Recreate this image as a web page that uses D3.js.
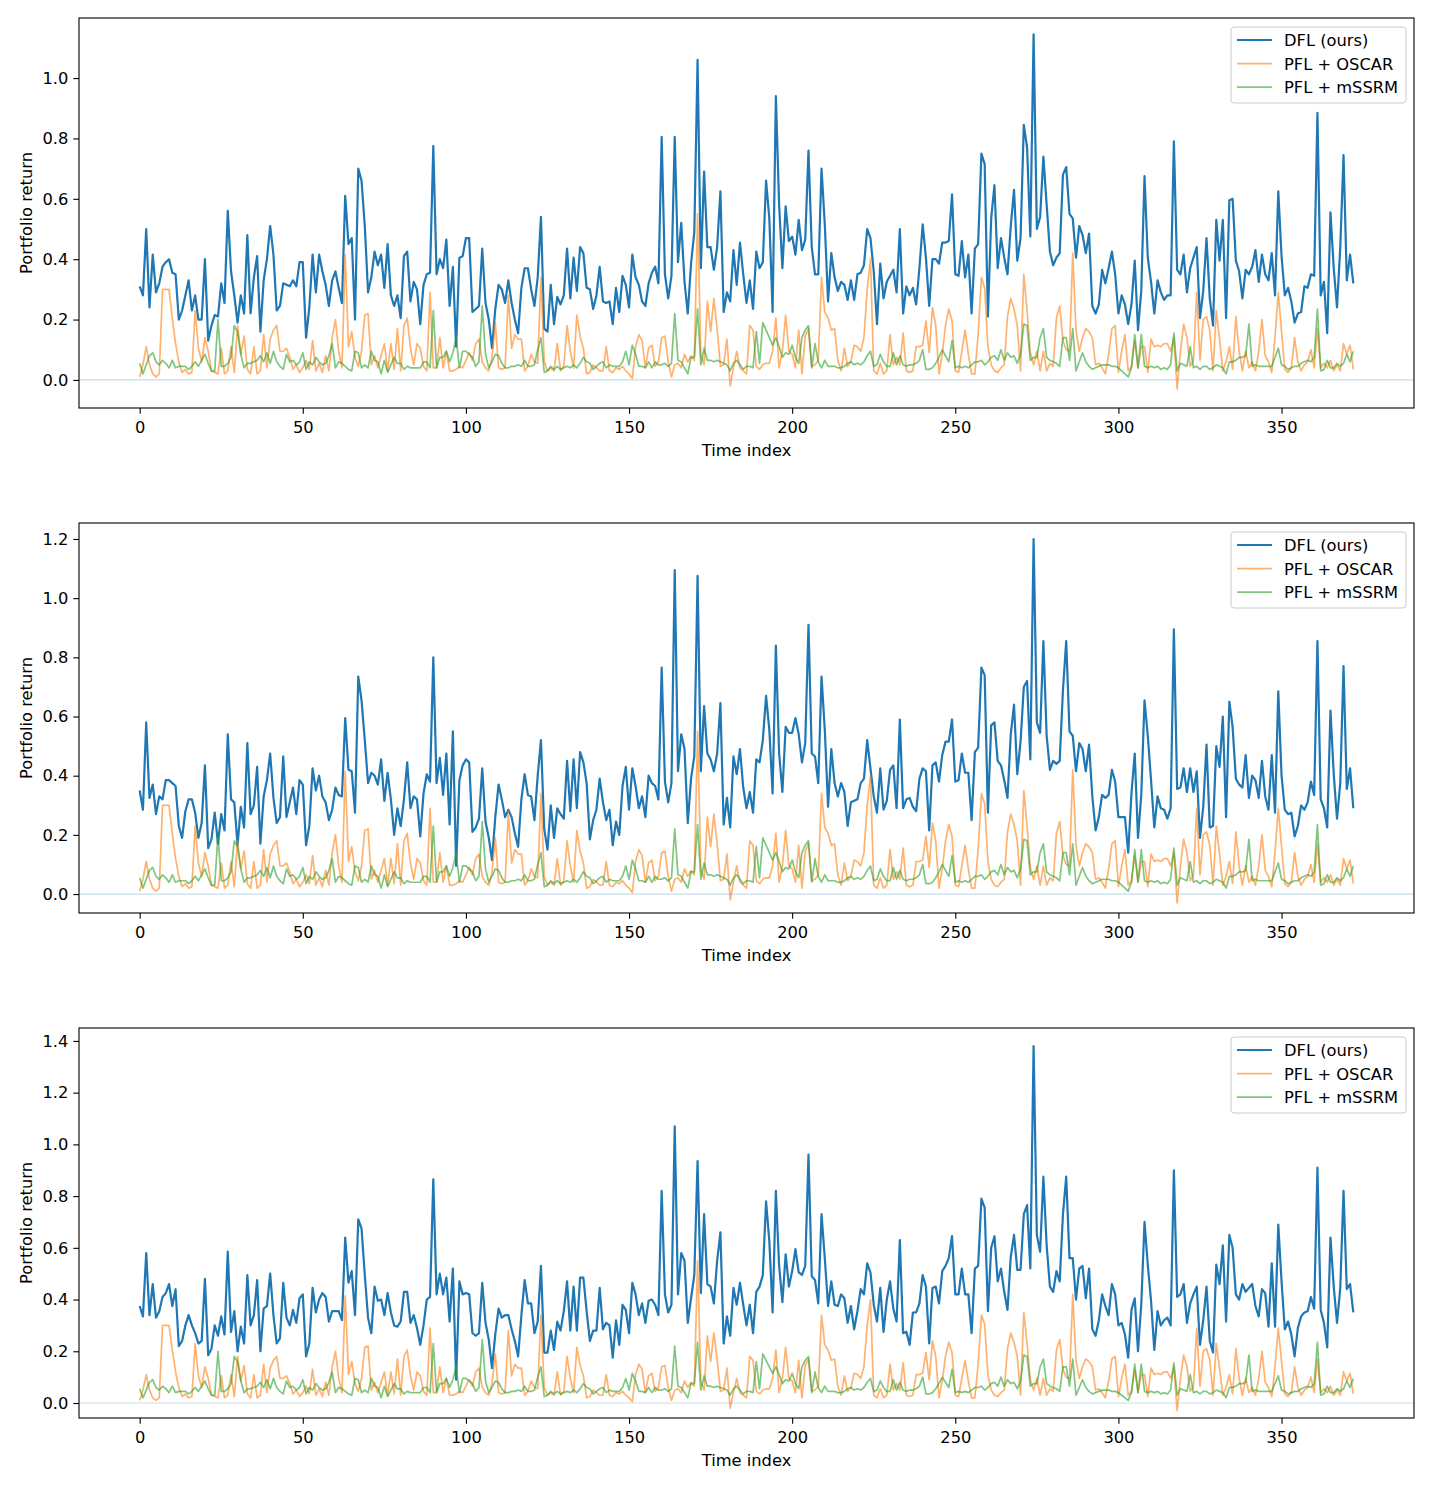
<!DOCTYPE html>
<html>
<head>
<meta charset="utf-8">
<script src="https://cdn.jsdelivr.net/npm/d3@7"></script>
<style>
  body { margin: 0; background: #fff; }
  svg text { font-family: "DejaVu Sans", sans-serif; fill: #000; }
</style>
</head>
<body>
<div id="fig"></div>
<script>
// series names (legend order)
const seriesNames = ['DFL (ours)', 'PFL + OSCAR', 'PFL + mSSRM'];

// DFL return, one array per panel (index 0..372)
const dflTop = [
  0.31,0.28,0.50,0.24,0.415,0.29,0.32,0.375,0.39,0.40,
  0.355,0.35,0.20,0.23,0.28,0.33,0.23,0.28,0.20,0.20,
  0.40,0.13,0.18,0.215,0.21,0.32,0.255,0.56,0.36,0.28,
  0.19,0.28,0.22,0.48,0.22,0.34,0.41,0.16,0.33,0.40,
  0.51,0.415,0.23,0.245,0.32,0.315,0.31,0.33,0.31,0.39,
  0.39,0.14,0.24,0.415,0.29,0.415,0.36,0.315,0.245,0.33,
  0.36,0.305,0.255,0.61,0.45,0.47,0.20,0.70,0.66,0.51,
  0.29,0.34,0.425,0.38,0.415,0.305,0.45,0.28,0.245,0.28,
  0.205,0.41,0.425,0.26,0.325,0.30,0.185,0.315,0.35,0.355,
  0.775,0.35,0.40,0.37,0.465,0.245,0.375,0.11,0.405,0.41,
  0.47,0.47,0.225,0.235,0.245,0.435,0.255,0.20,0.105,0.235,
  0.315,0.30,0.255,0.33,0.255,0.20,0.155,0.305,0.37,0.37,
  0.30,0.245,0.34,0.54,0.17,0.16,0.315,0.185,0.275,0.25,
  0.28,0.435,0.27,0.405,0.295,0.44,0.42,0.305,0.30,0.235,
  0.28,0.375,0.26,0.255,0.26,0.185,0.305,0.225,0.345,0.315,
  0.24,0.415,0.34,0.315,0.26,0.245,0.32,0.355,0.375,0.32,
  0.805,0.35,0.27,0.345,0.805,0.39,0.52,0.325,0.22,0.385,
  0.49,1.06,0.37,0.69,0.44,0.44,0.365,0.44,0.625,0.225,
  0.29,0.26,0.43,0.315,0.455,0.35,0.255,0.33,0.235,0.425,
  0.37,0.39,0.66,0.535,0.225,0.94,0.58,0.37,0.575,0.46,
  0.475,0.415,0.53,0.43,0.465,0.76,0.44,0.35,0.35,0.70,
  0.515,0.26,0.42,0.34,0.295,0.325,0.315,0.265,0.33,0.265,
  0.35,0.355,0.38,0.50,0.47,0.36,0.185,0.385,0.27,0.325,
  0.345,0.365,0.29,0.50,0.22,0.31,0.28,0.305,0.25,0.37,
  0.515,0.405,0.245,0.40,0.40,0.385,0.455,0.455,0.46,0.615,
  0.35,0.345,0.46,0.34,0.415,0.22,0.435,0.45,0.75,0.715,
  0.21,0.535,0.645,0.37,0.47,0.405,0.35,0.51,0.63,0.395,
  0.47,0.845,0.77,0.475,1.145,0.50,0.54,0.74,0.58,0.425,
  0.38,0.405,0.42,0.68,0.705,0.55,0.535,0.405,0.51,0.48,
  0.42,0.485,0.245,0.22,0.25,0.365,0.32,0.37,0.425,0.35,
  0.22,0.28,0.25,0.185,0.25,0.395,0.165,0.295,0.675,0.405,
  0.325,0.22,0.33,0.29,0.265,0.28,0.28,0.79,0.365,0.35,
  0.415,0.29,0.37,0.405,0.44,0.205,0.295,0.47,0.27,0.18,
  0.53,0.395,0.53,0.205,0.595,0.60,0.395,0.36,0.27,0.365,
  0.35,0.375,0.43,0.325,0.415,0.35,0.33,0.42,0.28,0.625,
  0.41,0.28,0.305,0.26,0.19,0.22,0.225,0.31,0.305,0.35,
  0.345,0.885,0.28,0.325,0.155,0.555,0.37,0.24,0.44,0.745,
  0.33,0.415,0.32
];

const dflMid = [
  0.35,0.285,0.58,0.325,0.37,0.27,0.33,0.32,0.385,0.385,
  0.375,0.365,0.23,0.19,0.28,0.32,0.32,0.275,0.19,0.24,
  0.435,0.155,0.185,0.275,0.17,0.27,0.215,0.54,0.32,0.31,
  0.165,0.295,0.225,0.51,0.27,0.30,0.43,0.17,0.33,0.385,
  0.475,0.325,0.24,0.26,0.465,0.26,0.31,0.36,0.27,0.385,
  0.37,0.165,0.23,0.425,0.35,0.40,0.33,0.31,0.25,0.285,
  0.36,0.335,0.33,0.595,0.42,0.415,0.275,0.735,0.655,0.52,
  0.375,0.41,0.40,0.37,0.455,0.315,0.41,0.32,0.20,0.29,
  0.23,0.32,0.445,0.29,0.33,0.32,0.195,0.34,0.405,0.38,
  0.80,0.375,0.46,0.335,0.475,0.235,0.55,0.095,0.385,0.435,
  0.455,0.445,0.21,0.225,0.255,0.425,0.245,0.19,0.115,0.26,
  0.37,0.32,0.26,0.285,0.26,0.205,0.16,0.32,0.405,0.335,
  0.33,0.25,0.40,0.52,0.22,0.15,0.30,0.19,0.29,0.27,
  0.255,0.45,0.28,0.455,0.29,0.48,0.445,0.375,0.185,0.25,
  0.285,0.39,0.31,0.25,0.285,0.165,0.245,0.20,0.365,0.43,
  0.285,0.425,0.365,0.29,0.33,0.26,0.40,0.375,0.365,0.32,
  0.765,0.38,0.31,0.375,1.095,0.415,0.54,0.49,0.24,0.39,
  0.465,1.075,0.415,0.635,0.475,0.455,0.415,0.475,0.645,0.235,
  0.325,0.225,0.465,0.405,0.49,0.36,0.29,0.345,0.275,0.455,
  0.445,0.52,0.67,0.555,0.34,0.84,0.475,0.345,0.565,0.545,
  0.545,0.595,0.54,0.445,0.51,0.91,0.475,0.465,0.375,0.735,
  0.555,0.295,0.49,0.375,0.33,0.375,0.345,0.23,0.31,0.315,
  0.32,0.375,0.39,0.52,0.425,0.33,0.275,0.425,0.285,0.315,
  0.42,0.435,0.29,0.59,0.29,0.32,0.325,0.295,0.28,0.39,
  0.425,0.415,0.215,0.435,0.445,0.38,0.47,0.515,0.515,0.59,
  0.38,0.385,0.475,0.41,0.41,0.25,0.48,0.495,0.765,0.74,
  0.275,0.57,0.58,0.45,0.435,0.385,0.325,0.54,0.64,0.405,
  0.515,0.70,0.72,0.455,1.20,0.58,0.545,0.855,0.535,0.42,
  0.45,0.44,0.45,0.69,0.855,0.55,0.535,0.415,0.51,0.49,
  0.415,0.505,0.33,0.215,0.26,0.335,0.325,0.335,0.42,0.38,
  0.26,0.26,0.26,0.14,0.34,0.475,0.19,0.335,0.655,0.535,
  0.385,0.225,0.33,0.29,0.285,0.255,0.29,0.895,0.355,0.36,
  0.425,0.345,0.425,0.345,0.415,0.19,0.295,0.505,0.225,0.23,
  0.50,0.43,0.60,0.26,0.65,0.565,0.39,0.37,0.36,0.47,
  0.325,0.40,0.385,0.325,0.45,0.33,0.285,0.47,0.275,0.685,
  0.40,0.285,0.27,0.275,0.195,0.23,0.30,0.285,0.31,0.38,
  0.335,0.855,0.32,0.29,0.225,0.62,0.405,0.255,0.375,0.77,
  0.355,0.425,0.29
];

const dflBot = [
  0.375,0.335,0.58,0.34,0.46,0.33,0.355,0.41,0.425,0.46,
  0.375,0.44,0.22,0.24,0.30,0.34,0.30,0.27,0.23,0.24,
  0.48,0.185,0.21,0.30,0.26,0.335,0.265,0.585,0.275,0.355,
  0.20,0.295,0.23,0.495,0.30,0.34,0.475,0.20,0.365,0.375,
  0.50,0.34,0.23,0.25,0.465,0.33,0.30,0.36,0.31,0.405,
  0.42,0.18,0.23,0.445,0.35,0.40,0.425,0.41,0.315,0.355,
  0.355,0.355,0.32,0.64,0.465,0.51,0.34,0.71,0.675,0.495,
  0.33,0.27,0.45,0.395,0.40,0.34,0.425,0.35,0.30,0.295,
  0.315,0.43,0.43,0.31,0.34,0.29,0.225,0.30,0.40,0.41,
  0.865,0.42,0.50,0.42,0.485,0.315,0.52,0.09,0.47,0.42,
  0.425,0.42,0.27,0.26,0.27,0.465,0.31,0.245,0.135,0.265,
  0.365,0.33,0.34,0.34,0.285,0.24,0.18,0.34,0.475,0.385,
  0.385,0.27,0.315,0.53,0.195,0.195,0.28,0.205,0.315,0.28,
  0.355,0.47,0.28,0.45,0.28,0.485,0.485,0.355,0.24,0.28,
  0.28,0.445,0.285,0.31,0.30,0.175,0.32,0.225,0.38,0.36,
  0.27,0.465,0.42,0.34,0.385,0.31,0.395,0.40,0.38,0.34,
  0.82,0.42,0.35,0.38,1.07,0.42,0.58,0.55,0.31,0.405,
  0.495,0.935,0.425,0.73,0.46,0.45,0.385,0.55,0.66,0.23,
  0.335,0.26,0.445,0.38,0.465,0.38,0.30,0.38,0.27,0.43,
  0.45,0.495,0.78,0.625,0.35,0.82,0.53,0.39,0.575,0.45,
  0.51,0.595,0.505,0.495,0.53,0.96,0.49,0.475,0.385,0.73,
  0.56,0.375,0.47,0.38,0.375,0.42,0.405,0.31,0.375,0.285,
  0.355,0.44,0.42,0.54,0.505,0.38,0.315,0.445,0.275,0.40,
  0.47,0.365,0.315,0.63,0.27,0.275,0.225,0.35,0.35,0.385,
  0.495,0.45,0.23,0.445,0.45,0.385,0.51,0.53,0.56,0.645,
  0.42,0.42,0.52,0.42,0.42,0.27,0.52,0.53,0.79,0.755,
  0.355,0.60,0.645,0.47,0.52,0.43,0.36,0.565,0.65,0.515,
  0.515,0.73,0.765,0.52,1.38,0.65,0.585,0.875,0.61,0.45,
  0.43,0.51,0.47,0.73,0.875,0.56,0.56,0.40,0.52,0.53,
  0.405,0.52,0.285,0.26,0.32,0.42,0.375,0.34,0.46,0.42,
  0.30,0.31,0.265,0.175,0.36,0.405,0.20,0.38,0.70,0.535,
  0.395,0.205,0.355,0.30,0.32,0.33,0.30,0.90,0.41,0.42,
  0.46,0.31,0.385,0.42,0.45,0.225,0.32,0.45,0.24,0.195,
  0.535,0.46,0.61,0.315,0.65,0.60,0.42,0.40,0.46,0.43,
  0.445,0.46,0.375,0.335,0.44,0.425,0.295,0.54,0.295,0.69,
  0.47,0.285,0.315,0.265,0.18,0.29,0.335,0.35,0.355,0.41,
  0.365,0.91,0.36,0.31,0.215,0.64,0.45,0.31,0.445,0.82,
  0.44,0.46,0.35
];

// baselines look the same in all three panels
const oscar = [
  0.01,0.05,0.11,0.05,0.02,0.01,0.02,0.30,0.30,0.30,
  0.205,0.12,0.06,0.025,0.035,0.02,0.025,0.23,0.105,0.06,
  0.14,0.095,0.03,0.025,0.02,0.105,0.02,0.03,0.11,0.025,
  0.18,0.085,0.145,0.035,0.02,0.11,0.02,0.03,0.15,0.04,
  0.135,0.165,0.18,0.095,0.095,0.105,0.075,0.035,0.05,0.025,
  0.04,0.065,0.035,0.13,0.03,0.055,0.025,0.08,0.03,0.14,
  0.20,0.095,0.04,0.415,0.11,0.16,0.075,0.045,0.095,0.215,
  0.22,0.05,0.08,0.04,0.08,0.12,0.03,0.12,0.035,0.17,
  0.03,0.18,0.205,0.105,0.05,0.12,0.105,0.045,0.03,0.29,
  0.04,0.04,0.14,0.04,0.095,0.03,0.03,0.035,0.045,0.04,
  0.065,0.09,0.065,0.12,0.135,0.06,0.04,0.03,0.075,0.19,
  0.04,0.035,0.04,0.28,0.105,0.15,0.135,0.135,0.03,0.045,
  0.085,0.06,0.055,0.34,0.06,0.03,0.04,0.03,0.12,0.03,
  0.045,0.18,0.095,0.04,0.215,0.145,0.105,0.02,0.025,0.05,
  0.04,0.03,0.03,0.11,0.03,0.025,0.04,0.035,0.045,0.03,
  0.02,0.005,0.11,0.15,0.13,0.04,0.105,0.115,0.045,0.06,
  0.14,0.145,0.06,0.01,0.05,0.055,0.04,0.085,0.06,0.08,
  0.065,0.55,0.085,0.05,0.26,0.16,0.27,0.17,0.045,0.05,
  0.135,-0.02,0.04,0.095,0.04,0.03,0.02,0.18,0.165,0.045,
  0.035,0.05,0.055,0.055,0.095,0.205,0.04,0.095,0.215,0.095,
  0.085,0.04,0.165,0.02,0.145,0.17,0.045,0.05,0.065,0.34,
  0.225,0.205,0.165,0.17,0.065,0.03,0.105,0.045,0.06,0.115,
  0.11,0.095,0.14,0.30,0.40,0.03,0.02,0.055,0.02,0.03,
  0.15,0.05,0.075,0.05,0.155,0.03,0.025,0.03,0.11,0.11,
  0.115,0.195,0.09,0.24,0.18,0.02,0.085,0.18,0.235,0.195,
  0.03,0.025,0.095,0.165,0.085,0.02,0.02,0.15,0.34,0.305,
  0.11,0.05,0.03,0.025,0.04,0.05,0.21,0.27,0.235,0.18,
  0.03,0.35,0.23,0.09,0.05,0.095,0.03,0.095,0.03,0.055,
  0.045,0.205,0.245,0.13,0.10,0.095,0.42,0.165,0.095,0.14,
  0.17,0.16,0.14,0.05,0.055,0.04,0.02,0.085,0.17,0.18,
  0.025,0.095,0.15,0.03,0.045,0.13,0.04,0.11,0.11,0.025,
  0.135,0.11,0.115,0.11,0.12,0.12,0.095,0.14,-0.03,0.095,
  0.185,0.14,0.045,0.065,0.29,0.065,0.20,0.21,0.165,0.03,
  0.23,0.135,0.03,0.06,0.11,0.035,0.21,0.095,0.03,0.095,
  0.04,0.06,0.03,0.095,0.20,0.08,0.06,0.025,0.14,0.29,
  0.16,0.035,0.025,0.04,0.14,0.06,0.03,0.05,0.06,0.10,
  0.04,0.17,0.04,0.055,0.04,0.065,0.03,0.05,0.03,0.12,
  0.085,0.115,0.035
];

const mssrm = [
  0.055,0.02,0.05,0.08,0.09,0.06,0.05,0.065,0.055,0.04,
  0.065,0.04,0.045,0.045,0.045,0.035,0.045,0.06,0.045,0.065,
  0.085,0.055,0.03,0.03,0.20,0.045,0.045,0.055,0.075,0.18,
  0.16,0.085,0.04,0.055,0.055,0.06,0.065,0.08,0.06,0.09,
  0.055,0.095,0.06,0.045,0.035,0.085,0.06,0.065,0.05,0.06,
  0.09,0.035,0.06,0.05,0.075,0.06,0.05,0.055,0.08,0.12,
  0.04,0.06,0.055,0.045,0.035,0.03,0.095,0.09,0.04,0.05,
  0.04,0.095,0.065,0.06,0.02,0.065,0.025,0.05,0.075,0.055,
  0.055,0.035,0.045,0.04,0.04,0.04,0.04,0.06,0.06,0.04,
  0.23,0.04,0.075,0.075,0.095,0.06,0.09,0.14,0.04,0.095,
  0.095,0.085,0.075,0.045,0.06,0.245,0.085,0.04,0.06,0.085,
  0.08,0.055,0.04,0.04,0.045,0.045,0.05,0.045,0.065,0.045,
  0.045,0.05,0.10,0.14,0.025,0.03,0.045,0.035,0.045,0.035,
  0.04,0.045,0.04,0.05,0.04,0.055,0.075,0.06,0.055,0.035,
  0.045,0.055,0.06,0.04,0.05,0.045,0.045,0.045,0.06,0.095,
  0.05,0.115,0.085,0.045,0.045,0.04,0.06,0.04,0.06,0.05,
  0.05,0.055,0.045,0.055,0.22,0.065,0.06,0.04,0.02,0.075,
  0.075,0.235,0.05,0.105,0.065,0.065,0.06,0.065,0.06,0.055,
  0.05,0.03,0.055,0.065,0.05,0.035,0.045,0.045,0.04,0.16,
  0.055,0.19,0.165,0.14,0.115,0.14,0.11,0.075,0.09,0.085,
  0.115,0.075,0.055,0.14,0.165,0.18,0.04,0.12,0.06,0.04,
  0.065,0.045,0.045,0.045,0.04,0.04,0.045,0.055,0.06,0.05,
  0.055,0.05,0.06,0.08,0.095,0.045,0.05,0.085,0.06,0.045,
  0.045,0.09,0.05,0.08,0.05,0.045,0.05,0.05,0.055,0.065,
  0.10,0.035,0.035,0.04,0.055,0.075,0.10,0.08,0.06,0.13,
  0.04,0.045,0.04,0.045,0.04,0.05,0.06,0.06,0.065,0.05,
  0.06,0.075,0.08,0.065,0.10,0.065,0.09,0.075,0.08,0.055,
  0.085,0.185,0.18,0.065,0.075,0.075,0.14,0.17,0.075,0.065,
  0.06,0.055,0.045,0.14,0.14,0.065,0.17,0.03,0.06,0.09,
  0.06,0.045,0.035,0.04,0.045,0.05,0.05,0.05,0.045,0.045,
  0.04,0.03,0.02,0.01,0.04,0.15,0.04,0.15,0.045,0.04,
  0.045,0.04,0.045,0.035,0.04,0.035,0.05,0.155,0.03,0.055,
  0.05,0.045,0.11,0.04,0.045,0.035,0.045,0.045,0.035,0.04,
  0.05,0.045,0.04,0.02,0.06,0.06,0.065,0.075,0.075,0.08,
  0.185,0.045,0.05,0.045,0.045,0.045,0.045,0.045,0.075,0.105,
  0.05,0.045,0.035,0.04,0.045,0.045,0.055,0.06,0.065,0.06,
  0.075,0.235,0.03,0.035,0.065,0.04,0.04,0.055,0.045,0.055,
  0.085,0.06,0.095
];

// tick labels
const xTicks = [0, 50, 100, 150, 200, 250, 300, 350];
const yTicksTop = [0, 0.2, 0.4, 0.6, 0.8, 1.0];
const yTicksMid = [0, 0.2, 0.4, 0.6, 0.8, 1.0, 1.2];
const yTicksBot = [0, 0.2, 0.4, 0.6, 0.8, 1.0, 1.2, 1.4];

// layout
const W = 1433, H = 1489;
const AX = {left: 79, right: 1414, height: 390};
const panelTops = [18, 523, 1028];
const colors = ['#1f77b4', '#ff7f0e', '#2ca02c'];
const FONT = 16.3;
const TICK = 5.7;

const panels = [
  {top: panelTops[0], dfl: dflTop, ylim: [-0.093, 1.199], yTicks: yTicksTop},
  {top: panelTops[1], dfl: dflMid, ylim: [-0.064, 1.254], yTicks: yTicksMid},
  {top: panelTops[2], dfl: dflBot, ylim: [-0.058, 1.450], yTicks: yTicksBot}
];

const svg = d3.select('#fig').append('svg')
  .attr('width', W).attr('height', H)
  .attr('viewBox', `0 0 ${W} ${H}`);

// matplotlib style 5% margins on x
const n = dflTop.length;
const pad = (n - 1) * 0.05;
const xScale = d3.scaleLinear()
  .domain([-pad, n - 1 + pad])
  .range([AX.left, AX.right]);

panels.forEach(p => {
  const yScale = d3.scaleLinear()
    .domain(p.ylim)
    .range([p.top + AX.height, p.top]);

  const g = svg.append('g');

  // zero reference line
  g.append('line')
    .attr('x1', AX.left).attr('x2', AX.right)
    .attr('y1', yScale(0)).attr('y2', yScale(0))
    .attr('stroke', '#1f77b4').attr('stroke-opacity', 0.25)
    .attr('stroke-width', 1.2);

  const line = d3.line()
    .x((d, i) => xScale(i))
    .y(d => yScale(d));

  const series = [
    {data: p.dfl, color: colors[0], width: 2.2, opacity: 1},
    {data: oscar, color: colors[1], width: 1.7, opacity: 0.6},
    {data: mssrm, color: colors[2], width: 1.7, opacity: 0.6}
  ];
  series.forEach(s => {
    g.append('path')
      .attr('d', line(s.data))
      .attr('fill', 'none')
      .attr('stroke', s.color)
      .attr('stroke-opacity', s.opacity)
      .attr('stroke-width', s.width)
      .attr('stroke-linejoin', 'round');
  });

  // axes
  const xAxis = d3.axisBottom(xScale)
    .tickValues(xTicks).tickSize(TICK).tickPadding(8)
    .tickFormat(d3.format('d'));
  const yAxis = d3.axisLeft(yScale)
    .tickValues(p.yTicks).tickSize(TICK).tickPadding(5)
    .tickFormat(d3.format('.1f'));

  g.append('g')
    .attr('transform', `translate(0, ${p.top + AX.height})`)
    .call(xAxis)
    .call(a => a.select('.domain').remove())
    .call(a => a.selectAll('.tick line').attr('stroke', '#000').attr('stroke-width', 1.1))
    .call(a => a.selectAll('.tick text').attr('font-size', FONT).attr('font-family', 'DejaVu Sans'));
  g.append('g')
    .attr('transform', `translate(${AX.left}, 0)`)
    .call(yAxis)
    .call(a => a.select('.domain').remove())
    .call(a => a.selectAll('.tick line').attr('stroke', '#000').attr('stroke-width', 1.1))
    .call(a => a.selectAll('.tick text').attr('font-size', FONT).attr('font-family', 'DejaVu Sans'));

  // spines
  g.append('rect')
    .attr('x', AX.left).attr('y', p.top)
    .attr('width', AX.right - AX.left).attr('height', AX.height)
    .attr('fill', 'none').attr('stroke', '#000').attr('stroke-width', 1.1);

  // axis labels
  g.append('text')
    .attr('x', (AX.left + AX.right) / 2)
    .attr('y', p.top + AX.height + 48)
    .attr('text-anchor', 'middle')
    .attr('font-size', FONT)
    .text('Time index');
  g.append('text')
    .attr('transform', `translate(32, ${p.top + AX.height / 2}) rotate(-90)`)
    .attr('text-anchor', 'middle')
    .attr('font-size', FONT)
    .text('Portfolio return');

  // legend, upper right
  const lg = g.append('g')
    .attr('transform', `translate(${AX.right - 8 - 175}, ${p.top + 9})`);
  lg.append('rect')
    .attr('width', 175).attr('height', 76)
    .attr('rx', 3).attr('ry', 3)
    .attr('fill', '#fff').attr('fill-opacity', 0.8)
    .attr('stroke', '#cccccc').attr('stroke-width', 1);
  seriesNames.forEach((name, k) => {
    const yy = 13 + k * 23.6;
    lg.append('line')
      .attr('x1', 6).attr('x2', 41)
      .attr('y1', yy).attr('y2', yy)
      .attr('stroke', series[k].color)
      .attr('stroke-opacity', series[k].opacity)
      .attr('stroke-width', series[k].width);
    lg.append('text')
      .attr('x', 53).attr('y', yy + 6)
      .attr('font-size', FONT)
      .text(name);
  });
});
</script>
</body>
</html>
